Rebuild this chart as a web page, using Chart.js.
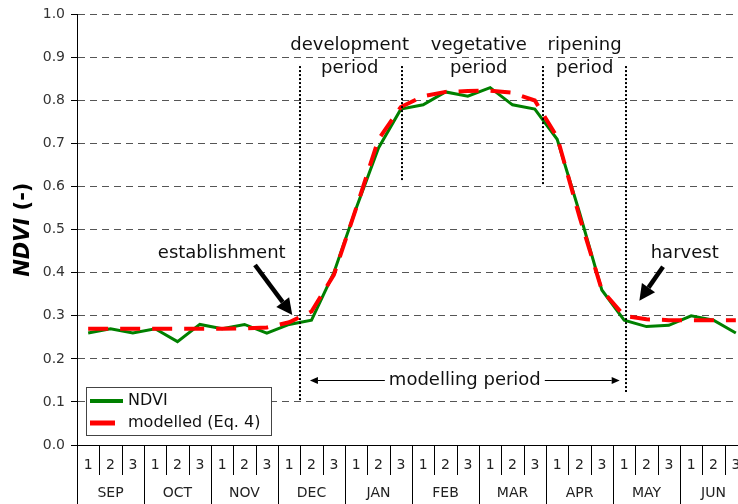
<!DOCTYPE html>
<html><head><meta charset="utf-8">
<script src="https://cdn.jsdelivr.net/npm/chart.js@4.4.1/dist/chart.umd.min.js"></script>
<style>
html,body{margin:0;padding:0;overflow:hidden;background:#fff;width:738px;height:504px}
#wrap{width:750px;height:504px}
</style>
</head><body><div id="wrap"><canvas id="c" width="750" height="504"></canvas></div>
<script>
// ---- data ----
const months = ['SEP','OCT','NOV','DEC','JAN','FEB','MAR','APR','MAY','JUN'];
const dekads = ['1','2','3'];
const ndvi = [0.26,0.27,0.26, 0.27,0.24,0.28, 0.27,0.28,0.26, 0.28,0.29,0.40,
              0.55,0.69,0.78, 0.79,0.82,0.81, 0.83,0.79,0.78, 0.71,0.54,0.36,
              0.29,0.275,0.278, 0.30,0.29,0.26];
const modelled = [0.27,0.27,0.27, 0.27,0.27,0.27, 0.27,0.271,0.273, 0.285,0.31,0.395,
                  0.55,0.71,0.785, 0.81,0.82,0.822, 0.823,0.818,0.80, 0.715,0.53,0.36,
                  0.30,0.292,0.29, 0.29,0.29,0.29];
const seriesNames = ['NDVI','modelled (Eq. 4)'];
const yTickValues = [0,0.1,0.2,0.3,0.4,0.5,0.6,0.7,0.8,0.9,1.0];
const yTitleParts = ['NDVI', ' (-)'];
// annotations (in category-index / NDVI units)
const periodLines = [[9.47,0.88,0.104],[14.03,0.88,0.615],[20.37,0.88,0.603],[24.1,0.88,0.123]];
const periodTexts = [[11.71,'development','period'],[17.49,'vegetative','period'],[22.23,'ripening','period']];
const eventTexts = [[5.98,0.445,'establishment'],[26.71,0.445,'harvest']];
const eventArrows = [[7.47,0.418,9.14,0.302],[25.74,0.414,24.68,0.335]];
const modelPeriod = [9.93,23.8,0.151,'modelling period'];

const categories = months.flatMap(m => dekads.map(d => m + ' ' + d));
const FONT = '"DejaVu Sans", Verdana, sans-serif';

function arrow(ctx, x1, y1, x2, y2, w, hl, hw) {
  const a = Math.atan2(y2 - y1, x2 - x1);
  const bx = x2 - hl * Math.cos(a), by = y2 - hl * Math.sin(a);
  ctx.lineWidth = w;
  ctx.beginPath(); ctx.moveTo(x1, y1); ctx.lineTo(bx, by); ctx.stroke();
  ctx.beginPath();
  ctx.moveTo(x2, y2);
  ctx.lineTo(bx + hw * Math.sin(a), by - hw * Math.cos(a));
  ctx.lineTo(bx - hw * Math.sin(a), by + hw * Math.cos(a));
  ctx.closePath(); ctx.fill();
}

const extras = {
  id: 'extras',
  afterDraw(chart) {
    const {ctx, chartArea: ca, scales: {x, y}} = chart;
    const px = v => x.getPixelForValue(v), py = v => y.getPixelForValue(v);
    ctx.save();
    // y axis title with mixed styles
    ctx.save();
    ctx.translate(24, (ca.top + ca.bottom) / 2);
    ctx.rotate(-Math.PI / 2);
    ctx.fillStyle = '#000'; ctx.textBaseline = 'middle'; ctx.textAlign = 'left';
    const f1 = 'italic bold 21px ' + FONT, f2 = 'bold 21px ' + FONT;
    ctx.font = f1; const w1 = ctx.measureText(yTitleParts[0]).width;
    ctx.font = f2; const w2 = ctx.measureText(yTitleParts[1]).width;
    ctx.font = f1; ctx.fillText(yTitleParts[0], -(w1 + w2) / 2, 0);
    ctx.font = f2; ctx.fillText(yTitleParts[1], -(w1 + w2) / 2 + w1, 0);
    ctx.restore();
    // two-level category axis
    ctx.strokeStyle = '#000'; ctx.lineWidth = 1; ctx.setLineDash([]);
    for (let i = 0; i <= categories.length; i++) {
      const xx = Math.round(px(i - 0.5)) + 0.5;
      const isMonth = i % dekads.length === 0;
      ctx.beginPath(); ctx.moveTo(xx, ca.bottom); ctx.lineTo(xx, isMonth ? chart.height : ca.bottom + 30); ctx.stroke();
    }
    ctx.fillStyle = '#222'; ctx.font = '14px ' + FONT; ctx.textAlign = 'center'; ctx.textBaseline = 'middle';
    categories.forEach((c, i) => ctx.fillText(dekads[i % dekads.length], px(i), ca.bottom + 20));
    months.forEach((m, j) => ctx.fillText(m, px(j * dekads.length + 1), ca.bottom + 48));

    // period separator lines (dotted)
    ctx.strokeStyle = '#000'; ctx.lineWidth = 2; ctx.setLineDash([2, 2]);
    periodLines.forEach(([xv, t, b]) => {
      const xx = Math.round(px(xv));
      ctx.beginPath(); ctx.moveTo(xx, py(t)); ctx.lineTo(xx, py(b)); ctx.stroke();
    });
    ctx.setLineDash([]);
    // period texts
    ctx.fillStyle = '#111'; ctx.font = '18px ' + FONT;
    periodTexts.forEach(([xv, a, b]) => {
      ctx.fillText(a, px(xv), py(0.928));
      ctx.fillText(b, px(xv), py(0.874));
    });
    eventTexts.forEach(([xv, yv, t]) => ctx.fillText(t, px(xv), py(yv)));
    ctx.fillStyle = '#000'; ctx.strokeStyle = '#000';
    eventArrows.forEach(([x1, y1, x2, y2]) => arrow(ctx, px(x1), py(y1), px(x2), py(y2), 4.5, 16, 8));
    // modelling period double arrow
    const [m1, m2, mv, mt] = modelPeriod;
    const my = Math.round(py(mv)) + 0.5;
    arrow(ctx, (px(m1) + px(m2)) / 2, my, px(m1), my, 1, 8, 3.5);
    arrow(ctx, (px(m1) + px(m2)) / 2, my, px(m2), my, 1, 8, 3.5);
    const tw = ctx.measureText(mt).width;
    const mc = (px(m1) + px(m2)) / 2;
    ctx.fillStyle = '#fff'; ctx.fillRect(mc - tw / 2 - 4, my - 11, tw + 8, 22);
    ctx.fillStyle = '#111'; ctx.fillText(mt, mc, my);

    // legend box
    const lx = ca.left + 9, ly = ca.bottom - 58, lw = 185, lh = 48;
    ctx.fillStyle = '#fff'; ctx.fillRect(lx, ly, lw, lh);
    ctx.strokeStyle = '#444'; ctx.lineWidth = 1; ctx.strokeRect(lx + 0.5, ly + 0.5, lw, lh);
    const ds = chart.data.datasets;
    ctx.font = '16px ' + FONT; ctx.textAlign = 'left';
    ds.forEach((d, k) => {
      const yy = ly + 14 + k * 22;
      ctx.strokeStyle = d.borderColor; ctx.lineWidth = d.borderWidth + 1;
      ctx.beginPath(); ctx.moveTo(lx + 4, yy); ctx.lineTo(lx + (k === 0 ? 37 : 29), yy); ctx.stroke();
      ctx.fillStyle = '#111'; ctx.fillText(d.label, lx + 42, yy);
    });
    ctx.restore();
  }
};

new Chart(document.getElementById('c'), {
  type: 'line',
  data: {
    labels: categories,
    datasets: [
      {label: seriesNames[0], data: ndvi, borderColor: '#008000', borderWidth: 3, pointRadius: 0, tension: 0, fill: false, order: 1},
      {label: seriesNames[1], data: modelled, borderColor: '#ff0000', borderWidth: 4, borderDash: [20, 12], pointRadius: 0, tension: 0, fill: false, order: 0}
    ]
  },
  options: {
    responsive: false, animation: false, devicePixelRatio: 1,
    layout: {padding: {left: 0, right: 3, top: 14, bottom: 59}},
    plugins: {legend: {display: false}, tooltip: {enabled: false}},
    scales: {
      x: {
        type: 'category', offset: true,
        grid: {display: false, drawTicks: false},
        ticks: {display: false},
        border: {display: true, color: '#000', width: 1}
      },
      y: {
        min: 0, max: 1,
        afterBuildTicks: s => { s.ticks = yTickValues.map(v => ({value: v})); },
        afterFit: s => { s.width = 77; },
        ticks: {callback: v => Number(v).toFixed(1), font: {family: FONT, size: 14}, color: '#333', padding: 6},
        grid: {color: '#555', lineWidth: 1, tickLength: 6, tickColor: '#000', tickBorderDash: [], drawTicks: true},
        border: {display: true, color: '#000', width: 1, dash: [7, 5]},
        title: {display: false}
      }
    }
  },
  plugins: [extras]
});
</script>
</body></html>
